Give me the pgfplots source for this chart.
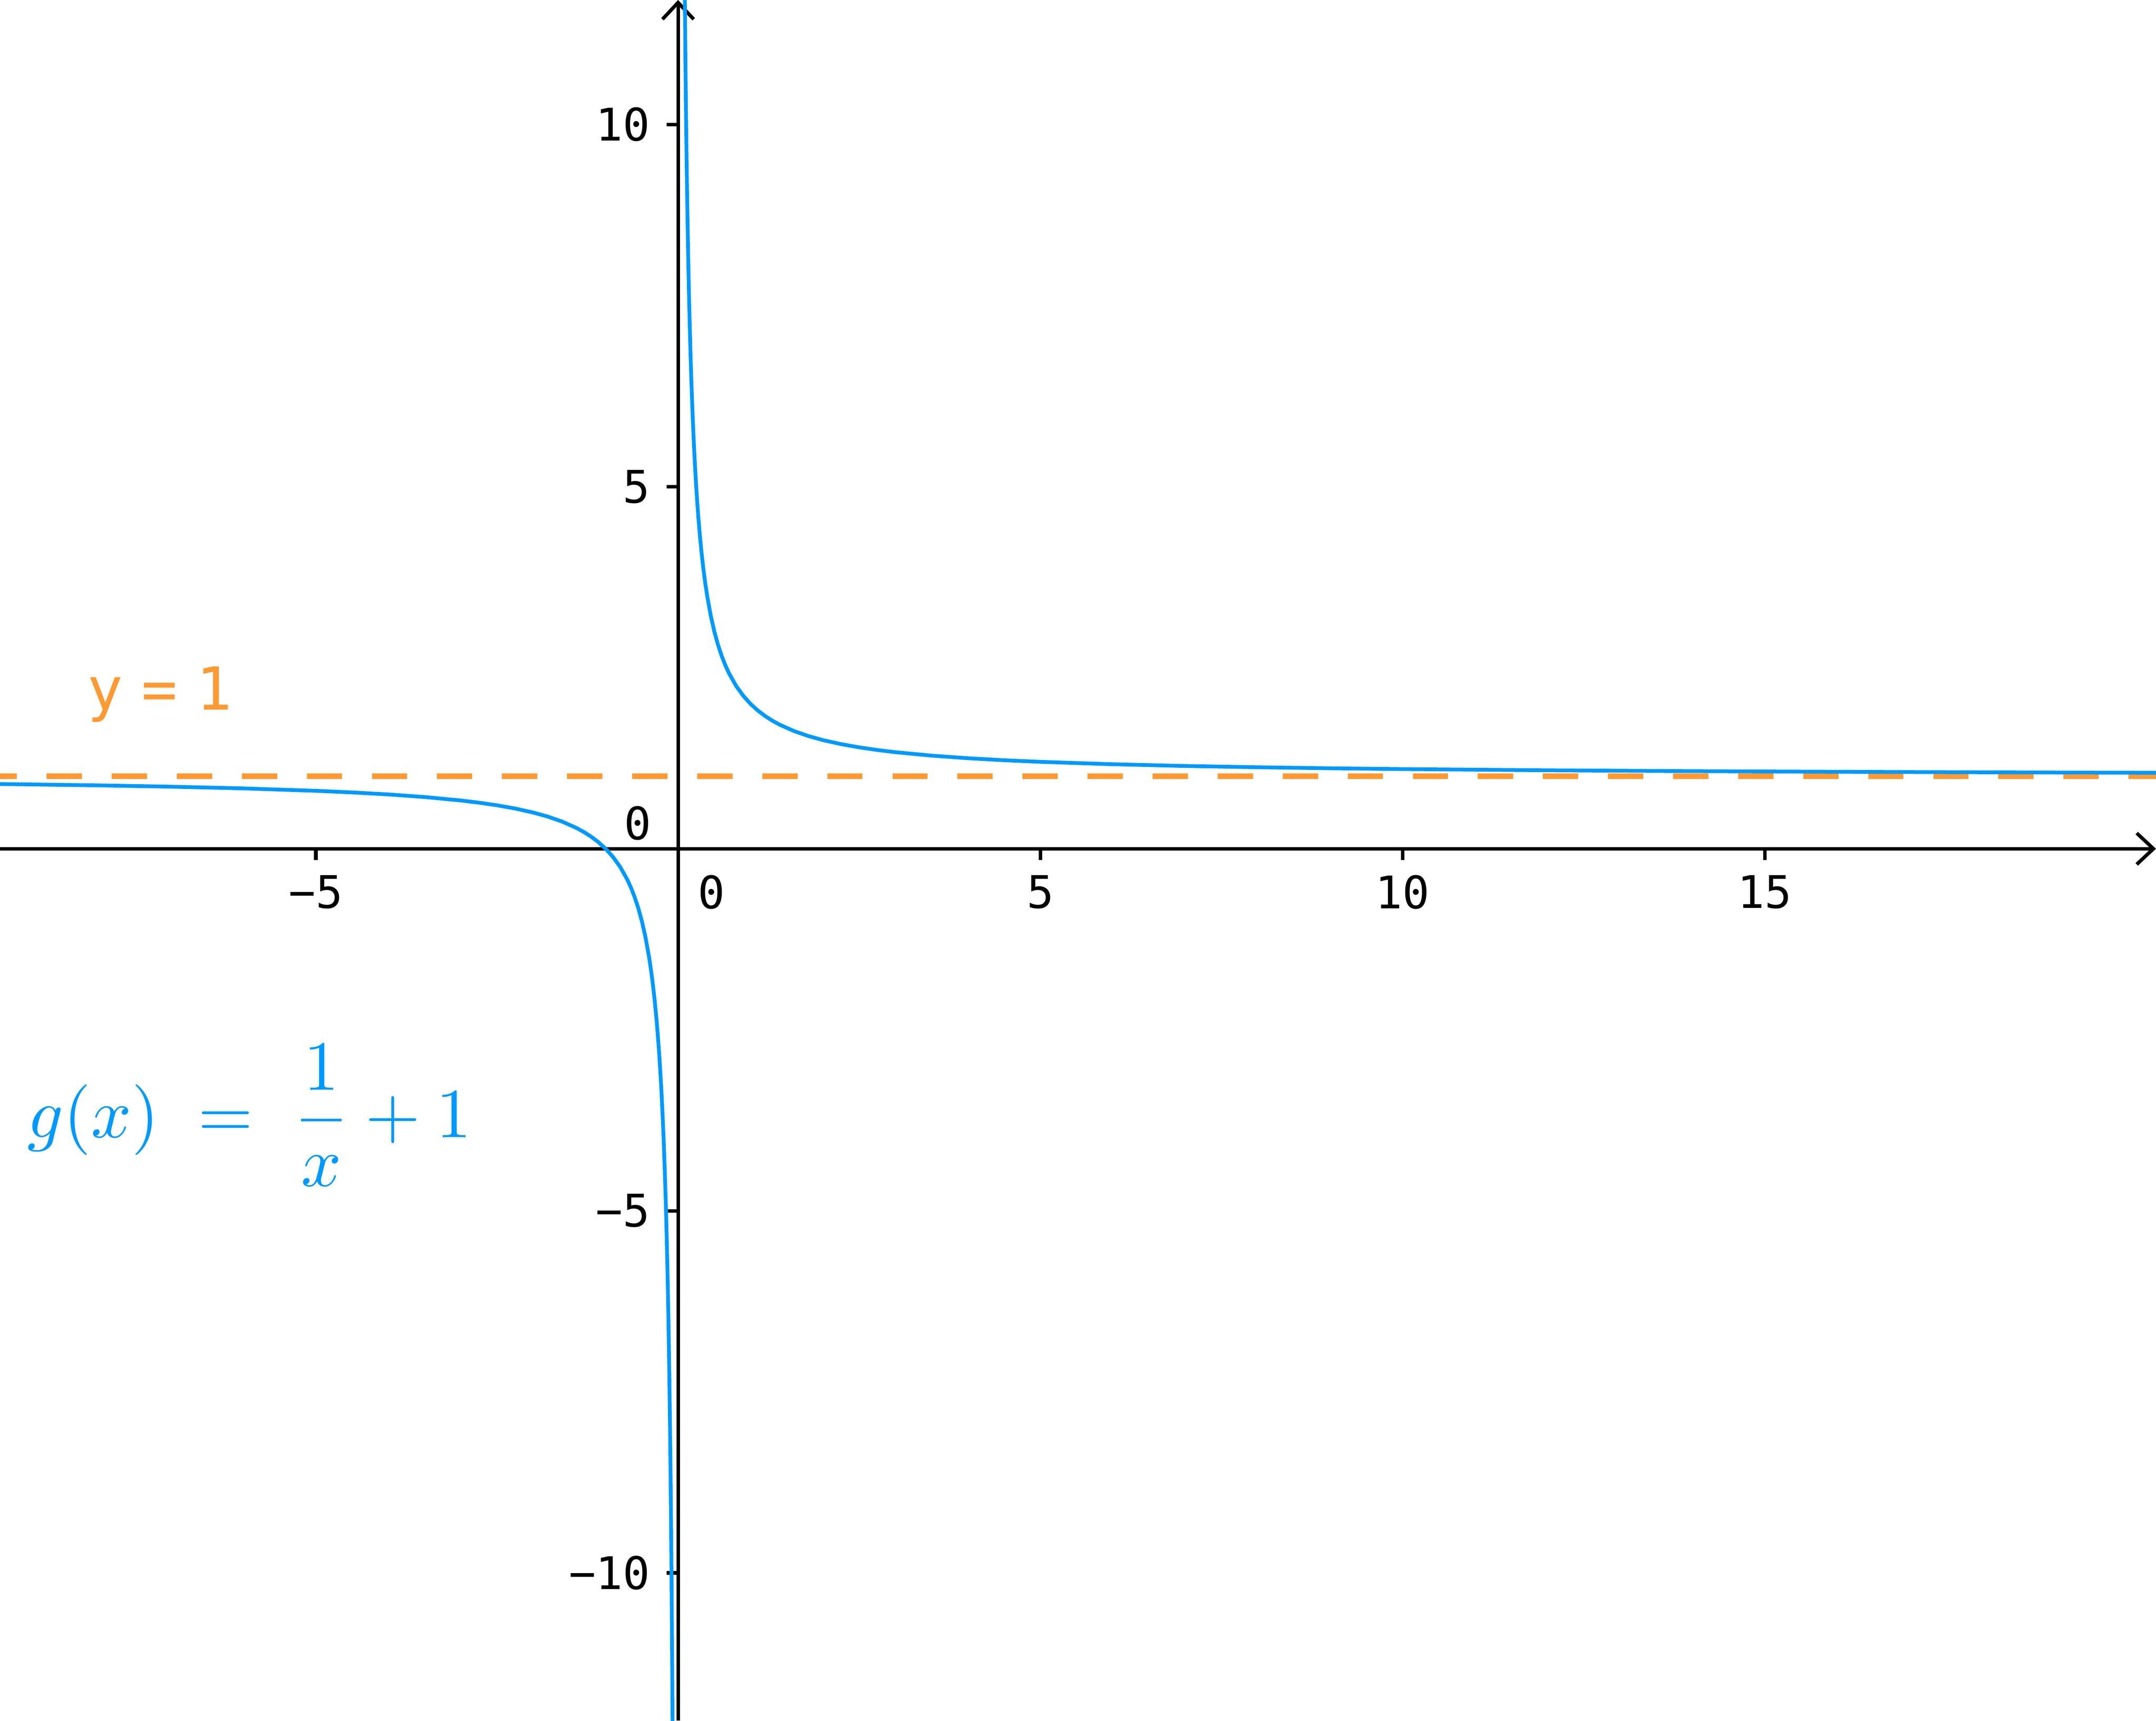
\documentclass[border=0pt]{standalone}
\usepackage{fontspec}
\setmonofont{DejaVu Sans Mono}
\usepackage{pgfplots}
\pgfplotsset{compat=1.18}
\usetikzlibrary{arrows.meta}
\definecolor{gblue}{HTML}{0099FF}
\definecolor{gorange}{HTML}{FF9933}
\newcommand{\tickfont}{\ttfamily\fontsize{8.35}{10}\selectfont}
\begin{document}
\begin{tikzpicture}
\begin{axis}[
  at={(0,0)}, anchor=south west,
  scale only axis, width=400pt, height=319.3pt,
  xmin=-9.36, xmax=20.40, ymin=-12.04, ymax=11.72,
  axis lines=middle,
  axis line style={black, line width=0.65pt, -{Straight Barb[length=3.1pt,width=5.8pt]}},
  xtick={-5,0,5,10,15}, ytick={-10,-5,5,10},
  xticklabels={−5,,5,10,15},
  yticklabels={−10,−5,5,10},
  hide obscured x ticks=false,
  tick style={black, line width=0.65pt},
  tick align=outside, major tick length=2.1pt,
  ticklabel style={font=\tickfont, inner sep=0pt},
  xticklabel style={anchor=north, yshift=-2.6pt},
  yticklabel style={anchor=east, xshift=-2.9pt},
  clip=true,
]
\addplot[gorange, line width=1.04pt, dash pattern=on 6.54pt off 5.53pt, dash phase=3.41pt]
  coordinates {(-9.36,1) (20.40,1)};
\addplot[gblue, line width=0.7pt] coordinates {
(0.085,12.765) (0.09,12.111) (0.1,11) (0.11,10.0909) (0.12,9.3333) (0.13,8.6923)
(0.14,8.1429) (0.15,7.6667) (0.16,7.25) (0.17,6.8824) (0.185,6.4054) (0.2,6)
(0.215,5.6512) (0.23,5.3478) (0.245,5.0816) (0.26,4.8462) (0.28,4.5714) (0.3,4.3333)
(0.325,4.0769) (0.35,3.8571) (0.375,3.6667) (0.4,3.5) (0.45,3.2222) (0.5,3)
(0.55,2.8182) (0.6,2.6667) (0.65,2.5385) (0.7,2.4286) (0.8,2.25) (0.9,2.1111)
(1,2) (1.1,1.9091) (1.2,1.8333) (1.3,1.7692) (1.4,1.7143) (1.6,1.625) (1.8,1.5556)
(2,1.5) (2.25,1.4444) (2.5,1.4) (2.75,1.3636) (3,1.3333) (3.5,1.2857) (4,1.25)
(4.5,1.2222) (5,1.2) (6,1.1667) (7,1.1429) (8,1.125) (9,1.1111) (10,1.1)
(12,1.0833) (14,1.0714) (16,1.0625) (18,1.0556) (20.5,1.0488)
};
\addplot[gblue, line width=0.7pt] coordinates {
(-9.5,0.8947) (-9,0.8889) (-8,0.875) (-7,0.8571) (-6,0.8333) (-5,0.8) (-4.5,0.7778)
(-4,0.75) (-3.5,0.7143) (-3,0.6667) (-2.75,0.6364) (-2.5,0.6) (-2.25,0.5556)
(-2,0.5) (-1.8,0.4444) (-1.6,0.375) (-1.4,0.2857) (-1.3,0.2308) (-1.2,0.1667)
(-1.1,0.0909) (-1,0) (-0.9,-0.1111) (-0.8,-0.25) (-0.7,-0.4286) (-0.65,-0.5385)
(-0.6,-0.6667) (-0.55,-0.8182) (-0.5,-1) (-0.45,-1.2222) (-0.4,-1.5)
(-0.375,-1.6667) (-0.35,-1.8571) (-0.325,-2.0769) (-0.3,-2.3333) (-0.28,-2.5714)
(-0.26,-2.8462) (-0.245,-3.0816) (-0.23,-3.3478) (-0.215,-3.6512) (-0.2,-4)
(-0.185,-4.4054) (-0.17,-4.8824) (-0.16,-5.25) (-0.15,-5.6667) (-0.14,-6.1429)
(-0.13,-6.6923) (-0.12,-7.3333) (-0.11,-8.0909) (-0.1,-9) (-0.09,-10.1111)
(-0.08,-11.5) (-0.075,-12.3333)
};
\node[anchor=north, inner sep=0pt, font=\tickfont] at (axis cs:0.46,0) [yshift=-4.72pt] {0};
\node[anchor=center, inner sep=0pt, font=\tickfont] at (axis cs:-0.56,0.35) {0};
\node[anchor=base west, inner sep=0pt, text=gorange, font=\ttfamily\fontsize{11}{13}\selectfont]
  at (axis cs:-8.17,1.92) {y\hspace{3.5pt}=\hspace{3.5pt}1};
\node[anchor=base west, inner sep=0pt, text=gblue, scale=1.31]
  at (axis cs:-9.0,-3.99) {$\displaystyle g(x)\hspace{2.8pt}=\hspace{2.8pt}\frac{1}{x}+1$};
\end{axis}
\pgfresetboundingbox
\path[use as bounding box] (current axis.south west) rectangle (current axis.north east);
\end{tikzpicture}
\end{document}
